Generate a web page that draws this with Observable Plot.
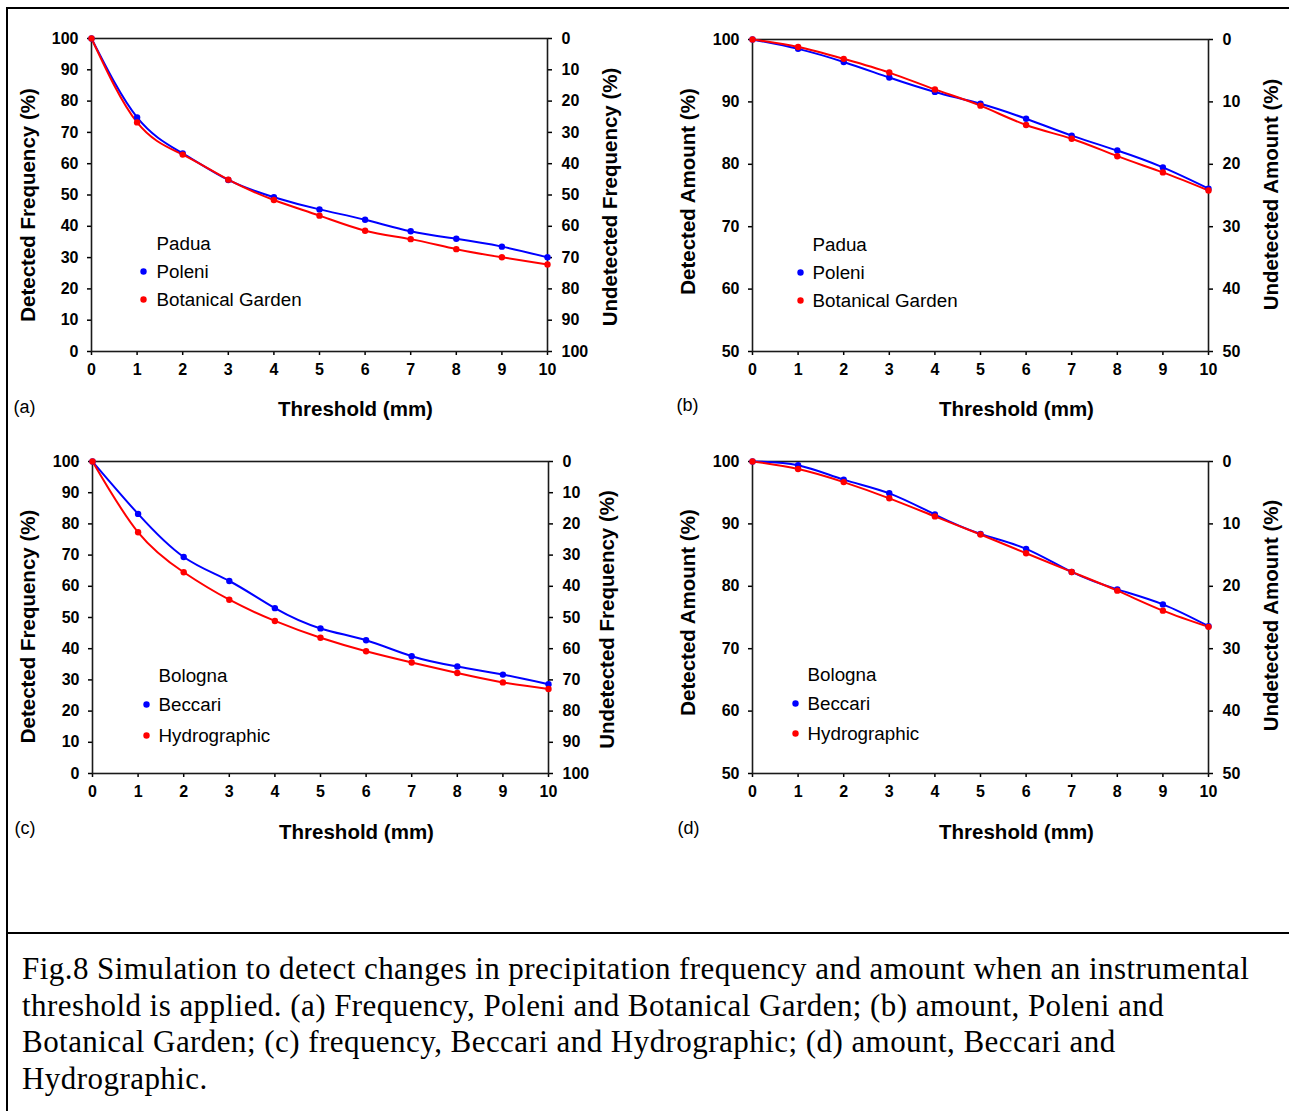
<!DOCTYPE html>
<html>
<head>
<meta charset="utf-8">
<script src="https://cdn.jsdelivr.net/npm/d3@7"></script>
<script src="https://cdn.jsdelivr.net/npm/@observablehq/plot@0.6"></script>
<style>
  html, body { margin: 0; padding: 0; background: #fff; }
  #page { position: relative; width: 1289px; height: 1111px; overflow: hidden; background: #fff;
          font-family: "Liberation Sans", Arial, sans-serif; }
  .rule { position: absolute; background: #000; }
  .panel { position: absolute; }
  .panel svg { overflow: visible; }
  #caption { position: absolute; left: 22px; top: 951px; white-space: nowrap;
             font-family: "Liberation Serif", "Times New Roman", serif; font-size: 31px; letter-spacing: 0.45px;
             line-height: 36.7px; color: #000; }
</style>
</head>
<body>
<div id="page">
  <div class="rule" style="left:6px;top:7px;width:1283px;height:2px"></div>
  <div class="rule" style="left:6px;top:7px;width:2px;height:1104px"></div>
  <div class="rule" style="left:6px;top:932px;width:1283px;height:2px"></div>
  <div class="panel" id="pa" style="left:0px;top:0px"></div>
  <div class="panel" id="pb" style="left:660px;top:0px"></div>
  <div class="panel" id="pc" style="left:0px;top:425px"></div>
  <div class="panel" id="pd" style="left:660px;top:425px"></div>
  <div id="caption">Fig.8 Simulation to detect changes in precipitation frequency and amount when an instrumental<br>threshold is applied. (a) Frequency, Poleni and Botanical Garden; (b) amount, Poleni and<br>Botanical Garden; (c) frequency, Beccari and Hydrographic; (d) amount, Beccari and<br>Hydrographic.</div>
</div>
<script>
// ---- data ----
const thresholds = [0, 1, 2, 3, 4, 5, 6, 7, 8, 9, 10];

const paduaFreqPoleni    = [100, 74.8, 63.3, 54.8, 49.3, 45.4, 42.1, 38.4, 36.0, 33.5, 30.1];
const paduaFreqBotanical = [100, 73.2, 62.9, 54.9, 48.4, 43.4, 38.6, 35.9, 32.7, 30.1, 27.8];
const paduaAmtPoleni     = [100, 98.5, 96.4, 93.9, 91.6, 89.7, 87.3, 84.6, 82.2, 79.5, 76.1];
const paduaAmtBotanical  = [100, 98.8, 96.9, 94.7, 92.0, 89.4, 86.3, 84.1, 81.3, 78.7, 75.8];
const bolognaFreqBeccari = [100, 83.2, 69.4, 61.7, 53.0, 46.5, 42.7, 37.6, 34.3, 31.7, 28.6];
const bolognaFreqHydro   = [100, 77.3, 64.5, 55.7, 48.9, 43.5, 39.2, 35.6, 32.2, 29.2, 27.1];
const bolognaAmtBeccari  = [100, 99.4, 97.1, 94.9, 91.5, 88.4, 86.0, 82.3, 79.5, 77.1, 73.6];
const bolognaAmtHydro    = [100, 98.8, 96.7, 94.1, 91.2, 88.3, 85.3, 82.3, 79.3, 76.1, 73.5];

const freqTicks = [0, 10, 20, 30, 40, 50, 60, 70, 80, 90, 100];
const amtTicks  = [50, 60, 70, 80, 90, 100];

const xTitle = "Threshold (mm)";
const freqLeft = "Detected Frequency (%)", freqRight = "Undetected Frequency (%)";
const amtLeft = "Detected Amount (%)", amtRight = "Undetected Amount (%)";

const BLUE = "#0000ff", RED = "#ff0000";
const SANS = "'Liberation Sans', Arial, sans-serif";

function panel(o) {
  const rows = [
    ...o.blue.map((v, i) => ({x: thresholds[i], y: v, s: o.blueName})),
    ...o.red.map((v, i) => ({x: thresholds[i], y: v, s: o.redName}))
  ];
  const tickFont = {fontSize: 16, fontWeight: "bold", fill: "#000"};
  const L = o.leg;
  return Plot.plot({
    width: 650, height: 430,
    marginLeft: o.ml, marginRight: 650 - o.ml - 456, marginTop: o.mt, marginBottom: 430 - o.mt - o.ph,
    style: {background: "transparent", overflow: "visible", maxWidth: "none", fontFamily: SANS, color: "#000"},
    x: {domain: [0, 10]},
    y: {domain: o.yDomain},
    color: {domain: [o.blueName, o.redName], range: [BLUE, RED]},
    marks: [
      Plot.axisX({ticks: thresholds, tickSize: 4, tickPadding: 8, strokeWidth: 1.5, label: null, ...tickFont}),
      Plot.axisY({anchor: "left", ticks: o.yTicks, tickSize: 4, tickPadding: 9, strokeWidth: 1.5, label: null, ...tickFont}),
      Plot.axisY({anchor: "right", ticks: o.yTicks, tickFormat: d => String(100 - d), tickSize: 4, tickPadding: 10, strokeWidth: 1.5, label: null, ...tickFont}),
      Plot.frame({stroke: "#1a1a1a", strokeWidth: 1.6}),
      Plot.line(rows, {x: "x", y: "y", stroke: "s", z: "s", curve: "natural", strokeWidth: 2}),
      Plot.dot(rows, {x: "x", y: "y", fill: "s", r: 3.2}),
      // axis titles
      Plot.text([o.leftLabel], {frameAnchor: "left", rotate: -90, textAnchor: "middle", lineAnchor: "middle", dx: o.ldx, dy: o.ldy, fontSize: 20.5, fontWeight: "bold", fill: "#000"}),
      Plot.text([o.rightLabel], {frameAnchor: "right", rotate: -90, textAnchor: "middle", lineAnchor: "middle", dx: o.rdx, dy: o.rdy, fontSize: 20.5, fontWeight: "bold", fill: "#000"}),
      Plot.text([xTitle], {frameAnchor: "bottom", textAnchor: "middle", lineAnchor: "middle", dx: 36, dy: o.xdy, fontSize: 20.5, fontWeight: "bold", fill: "#000"}),
      Plot.text([o.tag], {frameAnchor: "bottom-left", textAnchor: "start", lineAnchor: "middle", dx: o.tagdx, dy: o.tagdy, fontSize: 18, fill: "#000"}),
      // legend
      Plot.text([o.city], {frameAnchor: "top-left", textAnchor: "start", lineAnchor: "middle", dx: L.tx, dy: L.y0, fontSize: 18.8, fill: "#000"}),
      Plot.dot([o.blueName], {frameAnchor: "top-left", dx: L.dx, dy: L.y1, r: 3.2, fill: BLUE}),
      Plot.text([o.blueName], {frameAnchor: "top-left", textAnchor: "start", lineAnchor: "middle", dx: L.tx, dy: L.y1, fontSize: 18.8, fill: "#000"}),
      Plot.dot([o.redName], {frameAnchor: "top-left", dx: L.dx, dy: L.y2, r: 3.2, fill: RED}),
      Plot.text([o.redName], {frameAnchor: "top-left", textAnchor: "start", lineAnchor: "middle", dx: L.tx, dy: L.y2, fontSize: 18.8, fill: "#000"})
    ]
  });
}

document.getElementById("pa").append(panel({
  blue: paduaFreqPoleni, red: paduaFreqBotanical, blueName: "Poleni", redName: "Botanical Garden", city: "Padua",
  yDomain: [0, 100], yTicks: freqTicks, leftLabel: freqLeft, rightLabel: freqRight, tag: "(a)",
  ml: 91, mt: 38, ph: 313, ldx: -63, ldy: 10, rdx: 63, rdy: 2, xdy: 58, tagdx: -78, tagdy: 56,
  leg: {tx: 65, dx: 52, y0: 205, y1: 233, y2: 261}
}));
document.getElementById("pb").append(panel({
  blue: paduaAmtPoleni, red: paduaAmtBotanical, blueName: "Poleni", redName: "Botanical Garden", city: "Padua",
  yDomain: [50, 100], yTicks: amtTicks, leftLabel: amtLeft, rightLabel: amtRight, tag: "(b)",
  ml: 92, mt: 39, ph: 312, ldx: -64, ldy: -4, rdx: 63, rdy: -1, xdy: 58, tagdx: -76, tagdy: 54,
  leg: {tx: 60, dx: 48, y0: 205, y1: 233, y2: 261}
}));
document.getElementById("pc").append(panel({
  blue: bolognaFreqBeccari, red: bolognaFreqHydro, blueName: "Beccari", redName: "Hydrographic", city: "Bologna",
  yDomain: [0, 100], yTicks: freqTicks, leftLabel: freqLeft, rightLabel: freqRight, tag: "(c)",
  ml: 92, mt: 36, ph: 312, ldx: -64, ldy: 9, rdx: 59, rdy: 2, xdy: 59, tagdx: -78, tagdy: 55,
  leg: {tx: 66, dx: 54, y0: 214, y1: 243, y2: 274}
}));
document.getElementById("pd").append(panel({
  blue: bolognaAmtBeccari, red: bolognaAmtHydro, blueName: "Beccari", redName: "Hydrographic", city: "Bologna",
  yDomain: [50, 100], yTicks: amtTicks, leftLabel: amtLeft, rightLabel: amtRight, tag: "(d)",
  ml: 92, mt: 36, ph: 312, ldx: -64, ldy: -5, rdx: 63, rdy: -2, xdy: 59, tagdx: -75, tagdy: 55,
  leg: {tx: 55, dx: 43, y0: 213, y1: 242, y2: 272}
}));
</script>
</body>
</html>
